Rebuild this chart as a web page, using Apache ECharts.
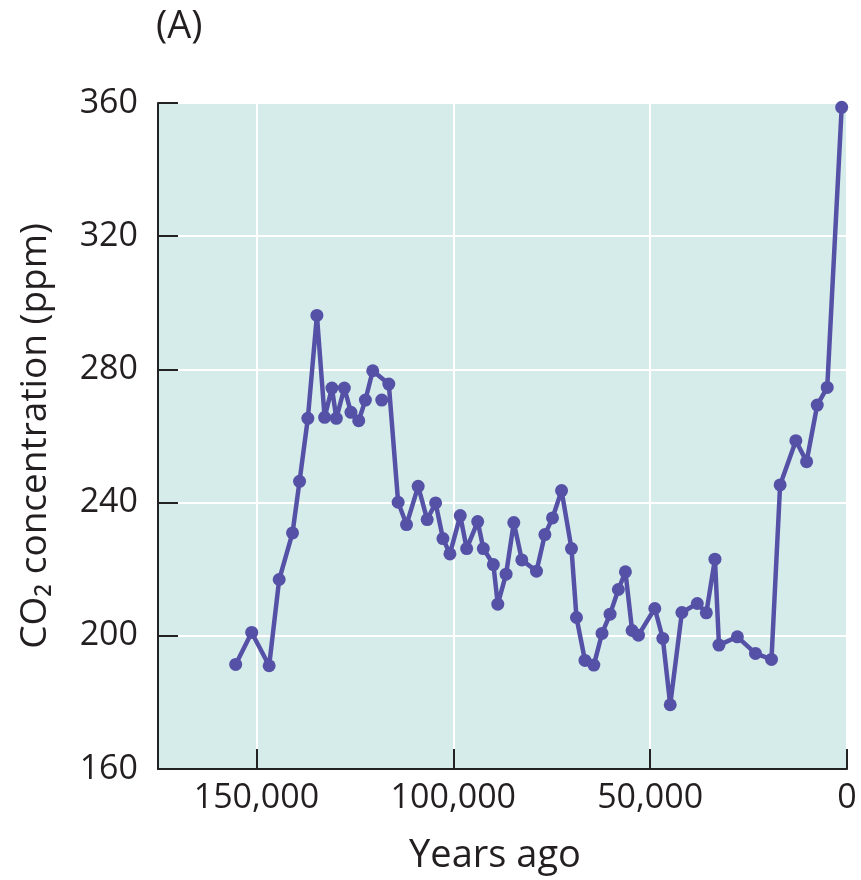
<!DOCTYPE html>
<html>
<head>
<meta charset="utf-8">
<script src="https://cdn.jsdelivr.net/npm/echarts@6/dist/echarts.min.js"></script>
<style>
html,body{margin:0;padding:0;background:#fff;}
#chart{width:861px;height:880px;}
</style>
</head>
<body>
<div id="chart"></div>
<script>
// Years ago (x) and CO2 concentration in ppm (y)
var yearsAgo = [155270,151200,146770,144220,140830,139050,136940,134640,132680,130820,129700,127670,125990,124020,122320,120460,116380,114010,111880,108920,106630,104490,102630,100850,98230,96600,93800,92370,89820,88700,86590,84630,82590,78870,76730,74800,72500,69980,68710,66550,64300,62220,60180,58070,56280,54580,52970,48820,46780,44900,41940,38020,35730,33540,32520,27840,23250,19180,16990,12990,10260,7560,5020,1350];
var co2ppm = [191.4,201.0,191.0,216.9,230.9,246.4,265.3,296.2,265.6,274.4,265.3,274.4,267.1,264.6,270.8,279.6,275.6,240.1,233.4,244.9,234.9,239.9,229.2,224.6,236.1,226.2,234.3,226.2,221.4,209.5,218.5,234.0,222.8,219.4,230.4,235.4,243.6,226.2,205.5,192.6,191.2,200.7,206.5,213.9,219.2,201.6,200.2,208.2,199.2,179.3,207.0,209.7,206.9,223.0,197.2,199.7,194.7,192.9,245.3,258.6,252.3,269.3,274.6,358.7];
// an isolated measurement not joined by the line
var extraYears = [118170];
var extraPpm = [270.8];
var yTicks = [160, 200, 240, 280, 320, 360];
var xTicks = [0, 50000, 100000, 150000];

var lineColor = '#5551a6';
var textColor = '#231f20';
var font = 'Open Sans';

var xScale = {type: 'value', inverse: true, min: 0, max: 175000, interval: 50000};
var yScale = {type: 'value', min: 160, max: 360, interval: 40};
var tickStyle = {show: true, inside: true, length: 20, lineStyle: {color: '#222', width: 2}};

var chart = echarts.init(document.getElementById('chart'), null, {renderer: 'canvas'});
chart.setOption({
  animation: false,
  backgroundColor: '#ffffff',
  title: {
    text: '(A)', left: 151, top: 3,
    textStyle: {fontFamily: font, fontSize: 38, fontWeight: 'normal', color: textColor}
  },
  grid: {
    left: 158, top: 103, width: 689, height: 668,
    show: true, backgroundColor: '#d5ecea', borderWidth: 0
  },
  xAxis: [
    Object.assign({}, xScale, {
      name: 'Years ago', nameLocation: 'middle', nameGap: 68,
      nameTextStyle: {fontFamily: font, fontSize: 38, color: textColor, padding: [0, 15, 0, 0]},
      axisLine: {show: true, onZero: false, lineStyle: {color: '#222', width: 2}},
      axisTick: {show: false},
      axisLabel: {
        fontFamily: font, fontSize: 34, color: textColor, margin: 12,
        formatter: function (v) { return xTicks.indexOf(v) >= 0 ? v.toLocaleString('en-US') : ''; }
      },
      splitLine: {show: true, lineStyle: {color: '#ffffff', width: 2}}
    }),
    Object.assign({}, xScale, {
      position: 'bottom', z: 10,
      axisLine: {show: false, onZero: false},
      axisTick: tickStyle,
      axisLabel: {show: false},
      splitLine: {show: false}
    })
  ],
  yAxis: [
    Object.assign({}, yScale, {
      name: 'CO\u2082 concentration (ppm)', nameLocation: 'middle', nameGap: 104, nameRotate: 90,
      nameTextStyle: {fontFamily: font, fontSize: 37, color: textColor},
      axisLine: {show: true, onZero: false, lineStyle: {color: '#222', width: 2}},
      axisTick: {show: false},
      axisLabel: {
        fontFamily: font, fontSize: 34, color: textColor, margin: 20,
        formatter: function (v) { return yTicks.indexOf(v) >= 0 ? String(v) : ''; }
      },
      splitLine: {show: true, lineStyle: {color: '#ffffff', width: 2}}
    }),
    Object.assign({}, yScale, {
      position: 'left', z: 10,
      axisLine: {show: false, onZero: false},
      axisTick: tickStyle,
      axisLabel: {show: false},
      splitLine: {show: false}
    })
  ],
  series: [
    {
      type: 'line',
      data: yearsAgo.map(function (x, i) { return [x, co2ppm[i]]; }),
      symbol: 'circle', symbolSize: 13, showAllSymbol: true,
      lineStyle: {color: lineColor, width: 4.5},
      itemStyle: {color: lineColor},
      z: 3
    },
    {
      type: 'scatter',
      data: extraYears.map(function (x, i) { return [x, extraPpm[i]]; }),
      symbol: 'circle', symbolSize: 13,
      itemStyle: {color: lineColor, opacity: 1},
      z: 3
    }
  ]
});
</script>
</body>
</html>
